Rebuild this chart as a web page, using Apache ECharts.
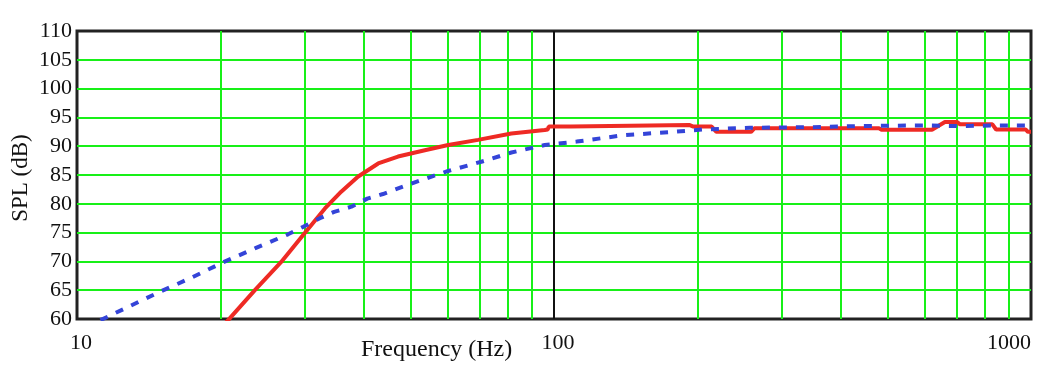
<!DOCTYPE html>
<html>
<head>
<meta charset="utf-8">
<script src="https://cdn.jsdelivr.net/npm/echarts@6/dist/echarts.min.js"></script>
<style>
html,body{margin:0;padding:0;background:#fff;}
#chart{width:1040px;height:366px;}
</style>
</head>
<body>
<div id="chart"></div>
<script>
// ---- data ----
const xTickLabels = ['10', '100', '1000'];
const yTicks = [60, 65, 70, 75, 80, 85, 90, 95, 100, 105, 110];
const minorFreqs = [20, 30, 40, 50, 60, 70, 80, 90, 200, 300, 400, 500, 600, 700, 800, 900];

const redFreq = [20.0, 20.9, 23.6, 26.8, 30.0, 33.1, 35.8, 38.8, 42.8, 47.1, 53.6, 60, 69.3, 81.4, 95.6, 97, 97.5, 108.5, 109.5, 192, 196, 214, 219, 259, 263, 480, 486, 620, 660, 700, 710, 830, 845, 975, 985, 1000];
const redSPL  = [58.4, 60.1, 65.0, 69.9, 74.9, 79.2, 82.1, 84.7, 87.0, 88.2, 89.3, 90.2, 91.1, 92.2, 92.8, 92.9, 93.4, 93.4, 93.7, 93.7, 93.4, 93.4, 92.5, 92.5, 93.1, 93.1, 92.85, 92.85, 94.2, 94.2, 93.8, 93.8, 92.9, 92.9, 92.5, 92.5];

const blueFreq = [11.2, 11.8, 14.9, 17.4, 20.2, 23.8, 27.7, 29.8, 32.3, 34.6, 37.6, 40.6, 43.8, 51.4, 60, 70.4, 81.4, 95.6, 111.6, 139.8, 177.9, 205, 257.5, 349, 438, 595, 694, 873, 1000];
const blueSPL  = [59.8, 60.7, 64.7, 67.2, 69.8, 72.4, 74.7, 76.0, 77.5, 78.6, 79.5, 80.9, 81.7, 83.8, 85.7, 87.3, 88.9, 90.2, 90.8, 91.9, 92.5, 92.9, 93.2, 93.3, 93.5, 93.6, 93.5, 93.6, 93.6];

const xTitle = 'Frequency (Hz)';
const yTitle = 'SPL (dB)';

function zip(a, b) { return a.map((v, i) => [v, b[i]]); }

const FONT = '"Liberation Serif", "Times New Roman", serif';
const chart = echarts.init(document.getElementById('chart'), null, {renderer: 'canvas'});

chart.setOption({
  animation: false,
  backgroundColor: '#ffffff',
  grid: {
    left: 77, right: 9, top: 31, bottom: 47,
    show: true, borderColor: '#222222', borderWidth: 3, backgroundColor: '#ffffff',
    outerBoundsMode: 'none'
  },
  xAxis: {
    type: 'log', logBase: 10, min: 10, max: 1000, interval: 1,
    axisLine: {show: false},
    axisTick: {show: false},
    minorTick: {show: false},
    splitLine: {show: true, showMinLine: false, showMaxLine: false, lineStyle: {color: '#111111', width: 2}},
    axisLabel: {
      fontFamily: FONT, fontSize: 22, color: '#111', margin: 13,
      padding: [0, 0, 0, 8],
      alignMaxLabel: 'right',
      formatter: function (v) { const s = String(Math.round(v)); return xTickLabels.indexOf(s) >= 0 ? s : ''; }
    }
  },
  yAxis: {
    type: 'value', min: 60, max: 110, interval: 5,
    axisLine: {show: false},
    axisTick: {show: false},
    splitLine: {show: true, showMinLine: false, showMaxLine: false, lineStyle: {color: '#18f018', width: 2}},
    axisLabel: {fontFamily: FONT, fontSize: 22, color: '#111', margin: 5, padding: [4, 0, 0, 0]}
  },
  graphic: [
    {type: 'text', left: 361, top: 338, style: {text: xTitle, font: '24px ' + FONT, fill: '#111'}},
    {type: 'text', x: 21, y: 178, rotation: Math.PI / 2, style: {text: yTitle, font: '23px ' + FONT, fill: '#111', align: 'center', verticalAlign: 'middle'}}
  ],
  series: [
    {
      type: 'line', data: [], z: 1, silent: true,
      markLine: {
        silent: true, symbol: 'none', label: {show: false},
        lineStyle: {color: '#18f018', width: 2, type: 'solid'},
        data: minorFreqs.map(f => ({xAxis: f}))
      }
    },
    {
      name: 'red', type: 'line', data: zip(redFreq, redSPL), showSymbol: false, z: 5,
      lineStyle: {color: '#ee2a24', width: 4}, clip: true
    },
    {
      name: 'blue', type: 'line', data: zip(blueFreq, blueSPL), showSymbol: false, z: 6,
      lineStyle: {color: '#3444d8', width: 4, type: [8, 9]}, clip: true
    }
  ]
});
</script>
</body>
</html>
